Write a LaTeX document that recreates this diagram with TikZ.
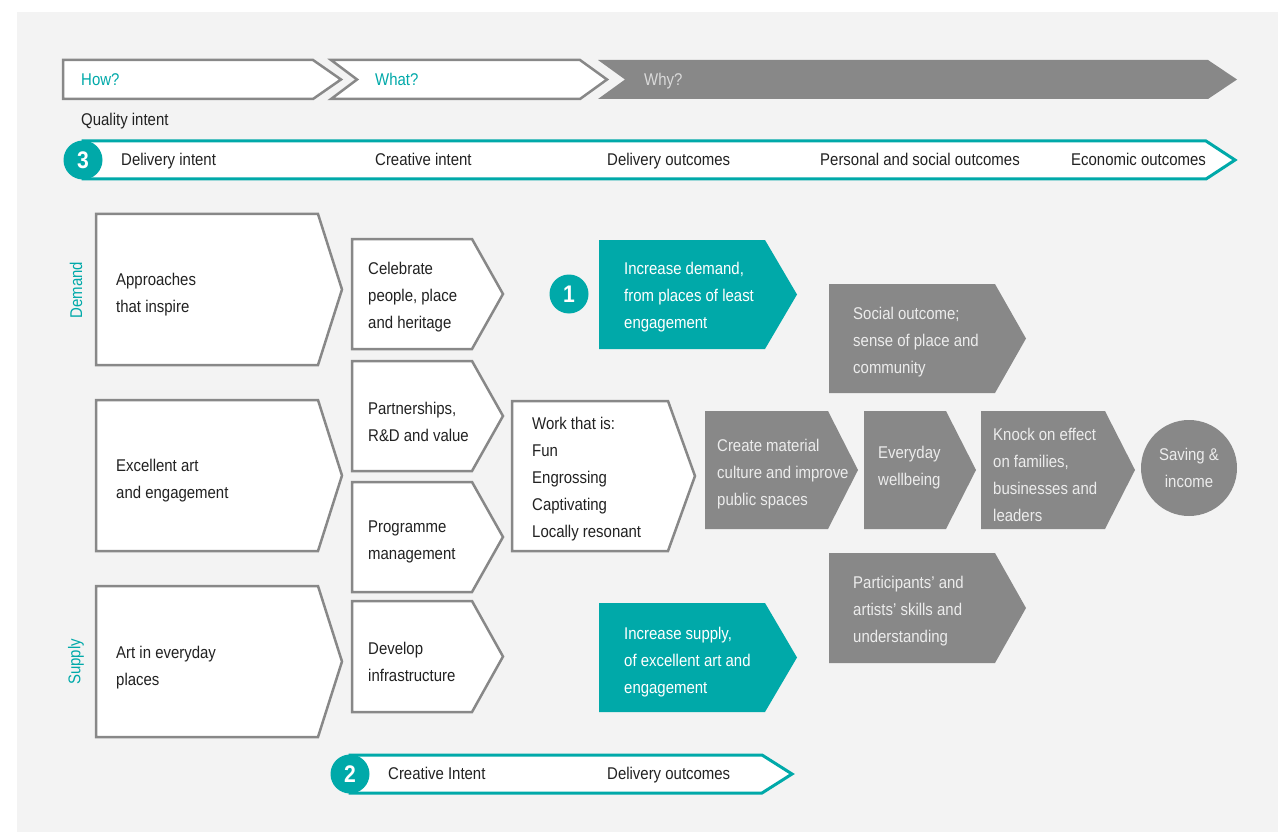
\documentclass[tikz,border=0pt]{standalone}
\usepackage{fontspec}
\setmainfont{Liberation Sans}[FakeStretch=0.88]
\usepackage{xcolor}
\usetikzlibrary{positioning}

\definecolor{brandteal}{HTML}{00A9A9}
\definecolor{chevgrey}{HTML}{888888}
\definecolor{pagegrey}{HTML}{F3F3F3}
\definecolor{ink}{HTML}{222222}
\definecolor{pale}{HTML}{ECECEC}
\definecolor{whylight}{HTML}{DADADA}

% arrow box: style, left, top, right, tip, bottom
\newcommand{\arrowbox}[6]{%
  \path[#1] (#2,#3) -- (#4,#3) -- (#5,{(#3+#6)/2}) -- (#4,#6) -- (#2,#6) -- cycle;}
% arrow box with a notch on the left: style, left, notch, top, right, tip, bottom
\newcommand{\notchbox}[7]{%
  \path[#1] (#2,#4) -- (#5,#4) -- (#6,{(#4+#7)/2}) -- (#5,#7) -- (#2,#7) -- (#3,{(#4+#7)/2}) -- cycle;}

\begin{document}
\begin{tikzpicture}[x=1pt, y=-1pt,
    every node/.style={font=\fontsize{17}{27}\selectfont, inner sep=0pt},
    outline/.style={draw=chevgrey, line width=2.5pt, fill=white},
    tealfill/.style={fill=brandteal},
    greyfill/.style={fill=chevgrey},
    band/.style={draw=brandteal, line width=3pt, fill=white},
    boxtext/.style={anchor=west, align=left, text=ink, yshift=-2pt},
    lineitem/.style={boxtext, text height=12pt, text depth=3.5pt, yshift=1pt},
    palebox/.style={boxtext, text=pale},
    numdot/.style={circle, fill=brandteal, minimum size=39pt, text=white,
      font=\fontsize{24}{24}\selectfont\bfseries},
    side/.style={rotate=90, text=brandteal}]

    % page
    \useasboundingbox (0,0) rectangle (1278,832);
    \fill[pagegrey] (17,12) rectangle (1278,832);

    % How / What / Why
    \arrowbox{outline}{63}{60}{313}{341}{99}
    \notchbox{outline}{331}{357}{60}{580}{607}{99}
    \notchbox{greyfill}{598}{625}{60}{1208}{1237}{99}
    \node[lineitem, text=brandteal] (how) at (81,80) {How?};
    \node[lineitem, text=brandteal] (what) at (375,80) {What?};
    \node[lineitem, text=whylight] (why) at (644,80) {Why?};

    \node[lineitem] (quality) at (81,120) {Quality intent};

    % Band 3
    \arrowbox{band}{83}{141}{1206}{1235}{179}
    \node[numdot] (three) at (83,160) {3};
    \node[lineitem] (delint) at (121,160) {Delivery intent};
    \node[lineitem] (creint) at (375,160) {Creative intent};
    \node[lineitem] (delout) at (607,160) {Delivery outcomes};
    \node[lineitem] (persout) at (820,160) {Personal and social outcomes};
    \node[lineitem] (econout) at (1071,160) {Economic outcomes};

    % Demand / supply
    \node[side] (demand) at (76,290) {Demand};
    \node[side] (supply) at (76,662) {Supply};

    % Left column
    \arrowbox{outline}{96}{214}{318}{342}{365}
    \arrowbox{outline}{96}{400}{318}{342}{551}
    \arrowbox{outline}{96}{586}{318}{342}{737}
    \node[boxtext] (inspire) at (116,293) {Approaches\\that inspire};
    \node[boxtext] (excellent) at (116,478.5) {Excellent art\\and engagement};
    \node[boxtext] (everyday) at (116,665.5) {Art in everyday\\places};

    % Second column
    \arrowbox{outline}{352}{239}{472}{503}{349}
    \arrowbox{outline}{352}{361}{472}{503}{471}
    \arrowbox{outline}{352}{482}{472}{503}{592}
    \arrowbox{outline}{352}{601}{472}{503}{712}
    \node[boxtext] (celebrate) at (368,295) {Celebrate\\people, place\\and heritage};
    \node[boxtext] (partner) at (368,419.5) {Partnerships,\\R\&D and value};
    \node[boxtext] (programme) at (368,539.5) {Programme\\management};
    \node[boxtext] (develop) at (368,659.5) {Develop\\infrastructure};

    % Third column
    \node[numdot] (one) at (569,294) {1};
    \arrowbox{tealfill}{599}{240}{765}{797}{349}
    \node[palebox, text=white] (demandup) at (624,295) {Increase demand,\\from places of least\\engagement};
    \arrowbox{outline}{512}{401}{668}{695}{551}
    \node[boxtext] (work) at (532,477.5) {Work that is:\\Fun\\Engrossing\\Captivating\\Locally resonant};
    \arrowbox{tealfill}{599}{603}{765}{797}{712}
    \node[palebox, text=white] (supplyup) at (624,660) {Increase supply,\\of excellent art and\\engagement};

    % Outcomes
    \arrowbox{greyfill}{829}{284}{995}{1026}{393}
    \node[palebox] (social) at (853,340) {Social outcome;\\sense of place and\\community};
    \arrowbox{greyfill}{705}{411}{828}{858}{529}
    \node[palebox] (material) at (717,472) {Create material\\culture and improve\\public spaces};
    \arrowbox{greyfill}{864}{411}{946}{976}{529}
    \node[palebox] (wellbeing) at (878,465.5) {Everyday\\wellbeing};
    \arrowbox{greyfill}{981}{411}{1105}{1135}{529}
    \node[palebox] (knock) at (993,472.5) {Knock on effect\\on families,\\businesses and\\leaders};
    \node[circle, fill=chevgrey, minimum size=96pt, text=pale, align=center] (saving) at (1189,468) {Saving \&\\income};
    \arrowbox{greyfill}{829}{553}{995}{1026}{663}
    \node[palebox] (skills) at (853,609) {Participants' and\\artists' skills and\\understanding};

    % Band 2
    \arrowbox{band}{350}{755}{762}{792}{793}
    \node[numdot] (two) at (350,774) {2};
    \node[lineitem] (creint2) at (388,774) {Creative Intent};
    \node[lineitem] (delout2) at (607,774) {Delivery outcomes};
\end{tikzpicture}
\end{document}
